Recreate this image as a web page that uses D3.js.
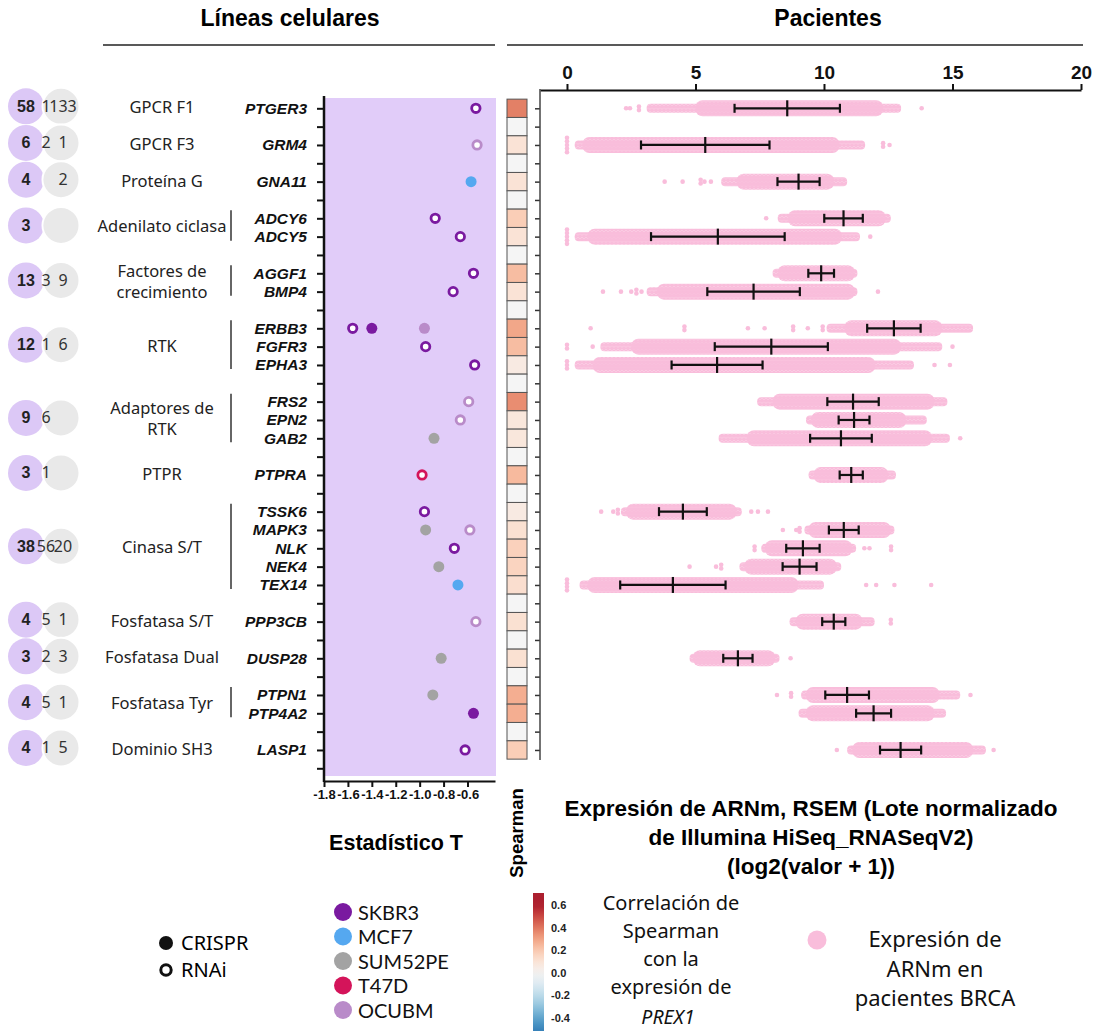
<!DOCTYPE html>
<html>
<head>
<meta charset="utf-8">
<script src="https://cdn.jsdelivr.net/npm/d3@7"></script>
<style>
  body { margin: 0; background: #fff; }
  svg { display: block; }
  .bold { font-family: 'Liberation Sans', Arial, sans-serif; font-weight: bold; }
  .reg { font-family: 'Noto Sans', sans-serif; }
  .leg { font-family: Lato, sans-serif; }
</style>
</head>
<body>
<svg id="chart" width="1098" height="1031"></svg>
<script>
// rows of the figure (empty string = spacer row)
const rowGenes = ['PTGER3', '', 'GRM4', '', 'GNA11', '', 'ADCY6', 'ADCY5', '', 'AGGF1', 'BMP4', '',
  'ERBB3', 'FGFR3', 'EPHA3', '', 'FRS2', 'EPN2', 'GAB2', '', 'PTPRA', '', 'TSSK6', 'MAPK3', 'NLK',
  'NEK4', 'TEX14', '', 'PPP3CB', '', 'DUSP28', '', 'PTPN1', 'PTP4A2', '', 'LASP1', '']

// spearman rho with PREX1, one per row (null = spacer)
const spearmanRho = [0.38, null, 0.10, null, 0.10, null, 0.18, 0.10, null, 0.23, 0.10, null,
  0.29, 0.23, 0.06, null, 0.35, 0.08, 0.08, null, 0.24, null, 0.06, 0.11, 0.17,
  0.16, 0.12, null, 0.11, null, 0.11, null, 0.27, 0.27, null, 0.18]

// functional groups
const groupNames = [['GPCR F1'], ['GPCR F3'], ['Proteína G'], ['Adenilato ciclasa'],
  ['Factores de', 'crecimiento'], ['RTK'], ['Adaptores de', 'RTK'], ['PTPR'], ['Cinasa S/T'],
  ['Fosfatasa S/T'], ['Fosfatasa Dual'], ['Fosfatasa Tyr'], ['Dominio SH3']]
const groupFirstRow = [0, 2, 4, 6, 9, 12, 16, 20, 22, 28, 30, 32, 35]
const groupLastRow = [0, 2, 4, 7, 10, 14, 18, 20, 26, 28, 30, 33, 35]
const vennLeft = ['58', '6', '4', '3', '13', '12', '9', '3', '38', '4', '3', '4', '4']
const vennMid = ['1', '2', '', '', '3', '1', '6', '1', '56', '5', '2', '5', '1']
const vennRight = ['133', '1', '2', '', '9', '6', '', '', '20', '1', '3', '1', '5']

// cell line screens (T statistic)
const screenGene = ['PTGER3', 'GRM4', 'GNA11', 'ADCY6', 'ADCY5', 'AGGF1', 'BMP4', 'ERBB3', 'ERBB3', 'ERBB3',
  'FGFR3', 'EPHA3', 'FRS2', 'EPN2', 'GAB2', 'PTPRA', 'TSSK6', 'MAPK3', 'MAPK3', 'NLK', 'NEK4', 'TEX14',
  'PPP3CB', 'DUSP28', 'PTPN1', 'PTP4A2', 'LASP1']
const screenT = [-0.53, -0.52, -0.57, -0.87, -0.66, -0.55, -0.72, -1.56, -1.40, -0.96,
  -0.95, -0.54, -0.59, -0.66, -0.88, -0.98, -0.96, -0.95, -0.58, -0.71, -0.84, -0.68,
  -0.53, -0.82, -0.89, -0.55, -0.62]
const screenLine = ['SKBR3', 'OCUBM', 'MCF7', 'SKBR3', 'SKBR3', 'SKBR3', 'SKBR3', 'SKBR3', 'SKBR3', 'OCUBM',
  'SKBR3', 'SKBR3', 'OCUBM', 'OCUBM', 'SUM52PE', 'T47D', 'SKBR3', 'SUM52PE', 'OCUBM', 'SKBR3', 'SUM52PE', 'MCF7',
  'OCUBM', 'SUM52PE', 'SUM52PE', 'SKBR3', 'SKBR3']
const screenMethod = ['RNAi', 'RNAi', 'CRISPR', 'RNAi', 'RNAi', 'RNAi', 'RNAi', 'RNAi', 'CRISPR', 'CRISPR',
  'RNAi', 'RNAi', 'RNAi', 'RNAi', 'CRISPR', 'RNAi', 'RNAi', 'CRISPR', 'RNAi', 'RNAi', 'CRISPR', 'CRISPR',
  'RNAi', 'CRISPR', 'CRISPR', 'CRISPR', 'RNAi']

const cellLines = ['SKBR3', 'MCF7', 'SUM52PE', 'T47D', 'OCUBM']
const cellColors = ['#7a1aa0', '#55a8f0', '#a3a3a3', '#d4145a', '#b98bc9']

// patient mRNA expression (log2(RSEM+1))
const exprGenes = ['PTGER3', 'GRM4', 'GNA11', 'ADCY6', 'ADCY5', 'AGGF1', 'BMP4', 'ERBB3', 'FGFR3', 'EPHA3',
  'FRS2', 'EPN2', 'GAB2', 'PTPRA', 'TSSK6', 'MAPK3', 'NLK', 'NEK4', 'TEX14', 'PPP3CB', 'DUSP28',
  'PTPN1', 'PTP4A2', 'LASP1']
const exprMean = [8.57, 5.38, 9.01, 10.76, 5.87, 9.89, 7.26, 12.72, 7.95, 5.84,
  11.13, 11.17, 10.66, 11.06, 4.51, 10.77, 9.18, 9.05, 4.12, 10.38, 6.65,
  10.90, 11.93, 12.98]
const exprSD = [2.05, 2.5, 0.82, 0.75, 2.6, 0.5, 1.8, 1.04, 2.2, 1.77,
  1.0, 0.6, 1.2, 0.45, 0.93, 0.58, 0.65, 0.66, 2.05, 0.45, 0.57,
  0.85, 0.68, 0.8]
// dense part of each swarm
const coreLo = [5.0, 0.6, 6.6, 8.6, 0.8, 8.2, 3.5, 10.8, 2.5, 1.0,
  8.0, 9.5, 7.0, 9.6, 2.3, 9.4, 7.7, 6.9, 0.8, 8.9, 4.9,
  9.3, 9.3, 11.1]
const coreHi = [12.3, 10.6, 10.4, 12.4, 10.7, 11.2, 11.2, 14.6, 13.0, 12.0,
  14.3, 13.2, 14.2, 12.5, 6.6, 12.6, 11.1, 10.5, 9.0, 11.5, 8.1,
  14.5, 14.3, 15.8]
// thinner tails of each swarm
const tailLo = [3.1, 0.3, 6.0, 8.2, 0.3, 8.0, 3.1, 10.1, 1.3, 0.3,
  7.4, 9.3, 5.9, 9.4, 2.1, 9.24, 7.56, 6.71, 0.49, 8.66, 4.77,
  9.11, 9.01, 10.9]
const tailHi = [13.0, 11.6, 10.9, 12.6, 11.4, 11.3, 11.3, 15.8, 14.6, 13.5,
  14.8, 14.0, 14.9, 12.8, 6.8, 12.74, 11.25, 10.67, 10.0, 11.97, 8.27,
  15.3, 14.75, 16.3]
// isolated patients: [value, number of stacked dots]
const exprOutliers = [
  [[2.3, 1], [2.45, 1], [2.8, 2], [13.8, 1]],
  [[0, 5], [12.3, 2], [12.55, 1]],
  [[3.8, 1], [4.5, 1], [5.2, 2], [5.35, 1], [5.6, 1]],
  [[7.75, 1]],
  [[0, 5], [11.8, 1]],
  [],
  [[1.4, 1], [2.1, 1], [2.5, 1], [2.7, 2], [2.9, 1], [12.1, 1]],
  [[0.92, 1], [4.57, 2], [7.04, 1], [7.69, 1], [8.8, 2], [9.37, 1], [9.95, 2]],
  [[0.0, 2], [1.0, 1], [15.0, 1]],
  [[0, 3], [14.3, 1], [14.9, 1]],
  [],
  [],
  [[15.3, 1]],
  [],
  [[1.33, 1], [1.8, 1], [1.98, 2], [7.17, 1], [7.43, 1], [7.82, 1]],
  [[8.4, 1], [8.92, 1], [9.05, 2]],
  [[7.3, 2], [11.57, 1], [11.77, 1], [12.61, 2]],
  [[4.77, 1], [5.8, 1], [6.0, 2]],
  [[0, 4], [11.64, 1], [12.03, 1], [12.74, 1], [14.17, 1]],
  [[12.6, 2]],
  [[8.7, 1]],
  [[8.17, 1], [8.72, 2], [15.7, 1]],
  [],
  [[10.5, 1], [16.6, 1]]
]

const tTicks = [-1.8, -1.6, -1.4, -1.2, -1.0, -0.8, -0.6]
const exprTicks = [0, 5, 10, 15, 20]
const rhoTicks = [0.6, 0.4, 0.2, 0.0, -0.2, -0.4]

const svg = d3.select('#chart')
const pink = '#f9bddb'

// scales
const rowY = d3.scaleLinear().domain([0, 36]).range([108.3, 768.3])
const rowH = rowY(1) - rowY(0)
const tX = d3.scaleLinear().domain([-1.8, -0.37]).range([324, 495])
const eX = d3.scaleLinear().domain([-1.05, 20]).range([540, 1081])
const rhoColor = d3.scaleDiverging(t => d3.interpolateRdBu(0.1 + 0.8 * t))
  .domain([0.6, 0, -0.6]).clamp(true)
const lineColor = d3.scaleOrdinal().domain(cellLines).range(cellColors)

const defs = svg.append('defs')
const pat = defs.append('pattern')
  .attr('id', 'swarm')
  .attr('patternUnits', 'userSpaceOnUse')
  .attr('width', 4)
  .attr('height', 7)
pat.append('circle').attr('cx', 2).attr('cy', 1.75).attr('r', 2.15).attr('fill', pink)
pat.append('circle').attr('cx', 0).attr('cy', 5.25).attr('r', 2.15).attr('fill', pink)
pat.append('circle').attr('cx', 4).attr('cy', 5.25).attr('r', 2.15).attr('fill', pink)

// headers
svg.append('text').attr('class', 'bold').attr('x', 290).attr('y', 26)
  .attr('text-anchor', 'middle').style('font-size', '23px').text('Líneas celulares')
svg.append('line').attr('x1', 103).attr('x2', 495).attr('y1', 45).attr('y2', 45)
  .attr('stroke', '#222').attr('stroke-width', 1.5)
svg.append('text').attr('class', 'bold').attr('x', 828).attr('y', 26)
  .attr('text-anchor', 'middle').style('font-size', '23px').text('Pacientes')
svg.append('line').attr('x1', 507).attr('x2', 1083).attr('y1', 45).attr('y2', 45)
  .attr('stroke', '#222').attr('stroke-width', 1.5)

// venn counts
const venn = svg.append('g')
groupNames.forEach((name, i) => {
  const y = (rowY(groupFirstRow[i]) + rowY(groupLastRow[i])) / 2 - 2
  venn.append('circle').attr('cx', 26).attr('cy', y).attr('r', 18).attr('fill', '#dcc8f6')
  venn.append('circle').attr('cx', 61).attr('cy', y).attr('r', 18.5)
    .attr('fill', '#e4e4e4').attr('fill-opacity', 0.82)
    .attr('stroke', '#fff').attr('stroke-width', 2)
  venn.append('text').attr('class', 'bold').attr('x', 26).attr('y', y + 5.5)
    .attr('text-anchor', 'middle').style('font-size', '16px').attr('fill', '#222').text(vennLeft[i])
  venn.append('text').attr('class', 'reg').attr('x', 46).attr('y', y + 5.5)
    .attr('text-anchor', 'middle').style('font-size', '16px').attr('fill', '#333').text(vennMid[i])
  venn.append('text').attr('class', 'reg').attr('x', 63).attr('y', y + 5.5)
    .attr('text-anchor', 'middle').style('font-size', '16px').attr('fill', '#333').text(vennRight[i])

  // category label
  const lh = 21
  name.forEach((line, k) => {
    svg.append('text').attr('class', 'reg')
      .attr('x', 162)
      .attr('y', y + 7 + (k - (name.length - 1) / 2) * lh)
      .attr('text-anchor', 'middle')
      .style('font-size', '16.5px')
      .attr('fill', '#222')
      .text(line)
  })
  // bracket for multi-gene groups
  if (groupLastRow[i] > groupFirstRow[i]) {
    const half = (rowY(groupLastRow[i]) - rowY(groupFirstRow[i])) / 2 + 6
    svg.append('line').attr('x1', 231).attr('x2', 231)
      .attr('y1', y - half).attr('y2', y + half)
      .attr('stroke', '#333').attr('stroke-width', 1.5)
  }
})

// T statistic panel
svg.append('rect').attr('x', 324).attr('y', 98).attr('width', 172).attr('height', 678)
  .attr('fill', '#e1ccf9')

const yAxis = svg.append('g')
  .attr('transform', 'translate(324,0)')
  .call(d3.axisLeft(rowY).tickValues(d3.range(37)).tickFormat(i => rowGenes[i]).tickSize(7).tickPadding(10))
yAxis.select('.domain').remove()
yAxis.selectAll('line').attr('stroke', '#111').attr('stroke-width', 2)
yAxis.selectAll('text')
  .attr('class', 'bold')
  .style('font-size', '15.5px')
  .style('font-style', 'italic')
  .attr('fill', '#111')
svg.append('line').attr('x1', 324).attr('x2', 324).attr('y1', 96).attr('y2', 782)
  .attr('stroke', '#111').attr('stroke-width', 2.5)

const tAxis = svg.append('g')
  .attr('transform', 'translate(0,781)')
  .call(d3.axisBottom(tX).tickValues(tTicks).tickFormat(d => d.toFixed(1)).tickSize(6).tickSizeOuter(0).tickPadding(3))
tAxis.select('.domain').attr('stroke', '#111').attr('stroke-width', 2)
tAxis.selectAll('line').attr('stroke', '#111').attr('stroke-width', 2)
tAxis.selectAll('text').attr('class', 'bold').style('font-size', '13px').attr('fill', '#111')

svg.append('text').attr('class', 'bold').attr('x', 396).attr('y', 850)
  .attr('text-anchor', 'middle').style('font-size', '21.5px').text('Estadístico T')

// screen dots
screenGene.forEach((g, i) => {
  const cx = tX(screenT[i])
  const cy = rowY(rowGenes.indexOf(g))
  const c = lineColor(screenLine[i])
  if (screenMethod[i] === 'CRISPR') {
    svg.append('circle').attr('cx', cx).attr('cy', cy).attr('r', 5.5).attr('fill', c)
  } else {
    svg.append('circle').attr('cx', cx).attr('cy', cy).attr('r', 4.2)
      .attr('fill', '#fff').attr('stroke', c).attr('stroke-width', 2.8)
  }
})

// spearman column
svg.append('g').selectAll('rect')
  .data(spearmanRho)
  .join('rect')
  .attr('x', 507)
  .attr('y', (d, i) => rowY(i) - rowH / 2)
  .attr('width', 20)
  .attr('height', rowH)
  .attr('fill', d => d === null ? '#f5f5f5' : rhoColor(d))
  .attr('stroke', '#555')
  .attr('stroke-width', 1)
svg.append('text').attr('class', 'bold')
  .attr('transform', 'translate(523,833) rotate(-90)')
  .attr('text-anchor', 'middle')
  .style('font-size', '18.5px')
  .text('Spearman')

// patients panel
const topAxis = svg.append('g')
  .attr('transform', 'translate(0,90)')
  .call(d3.axisTop(eX).tickValues(exprTicks).tickSize(6).tickSizeOuter(0).tickPadding(5))
topAxis.select('.domain').attr('stroke', '#111').attr('stroke-width', 2)
topAxis.selectAll('line').attr('stroke', '#111').attr('stroke-width', 2)
topAxis.selectAll('text').attr('class', 'bold').style('font-size', '19px').attr('fill', '#111')

const leftAxis = svg.append('g')
  .attr('transform', 'translate(540,0)')
  .call(d3.axisLeft(rowY).tickValues(d3.range(36)).tickFormat('').tickSize(5))
leftAxis.select('.domain').remove()
leftAxis.selectAll('line').attr('stroke', '#333').attr('stroke-width', 1.5)
svg.append('line').attr('x1', 540).attr('x2', 540).attr('y1', 89).attr('y2', 760)
  .attr('stroke', '#444').attr('stroke-width', 1.5)

const swarms = svg.append('g')
exprGenes.forEach((g, i) => {
  const y = rowY(rowGenes.indexOf(g))
  swarms.append('rect')
    .attr('x', eX(tailLo[i])).attr('width', eX(tailHi[i]) - eX(tailLo[i]))
    .attr('y', y - 4.5).attr('height', 9).attr('rx', 4)
    .attr('fill', 'url(#swarm)')
  swarms.append('rect')
    .attr('x', eX(coreLo[i])).attr('width', eX(coreHi[i]) - eX(coreLo[i]))
    .attr('y', y - 8).attr('height', 16).attr('rx', 7)
    .attr('fill', 'url(#swarm)')
  exprOutliers[i].forEach(([v, n]) => {
    d3.range(n).forEach(k => {
      swarms.append('circle')
        .attr('cx', eX(v))
        .attr('cy', y + (k - (n - 1) / 2) * 3.6)
        .attr('r', 2.3)
        .attr('fill', pink)
    })
  })
})

// mean +/- SD
const bars = svg.append('g').attr('stroke', '#111').attr('stroke-width', 2.2)
exprGenes.forEach((g, i) => {
  const y = rowY(rowGenes.indexOf(g))
  const lo = eX(exprMean[i] - exprSD[i])
  const hi = eX(exprMean[i] + exprSD[i])
  const m = eX(exprMean[i])
  bars.append('line').attr('x1', lo).attr('x2', hi).attr('y1', y).attr('y2', y)
  bars.append('line').attr('x1', lo).attr('x2', lo).attr('y1', y - 4.5).attr('y2', y + 4.5)
  bars.append('line').attr('x1', hi).attr('x2', hi).attr('y1', y - 4.5).attr('y2', y + 4.5)
  bars.append('line').attr('x1', m).attr('x2', m).attr('y1', y - 8).attr('y2', y + 8)
})

const xTitle = ['Expresión de ARNm, RSEM (Lote normalizado', 'de Illumina HiSeq_RNASeqV2)', '(log2(valor + 1))']
xTitle.forEach((t, k) => {
  svg.append('text').attr('class', 'bold').attr('x', 811).attr('y', 816 + k * 29)
    .attr('text-anchor', 'middle').style('font-size', '22.5px').text(t)
})

// legend: method
svg.append('circle').attr('cx', 166).attr('cy', 943).attr('r', 7).attr('fill', '#111')
svg.append('circle').attr('cx', 166).attr('cy', 970).attr('r', 5.2)
  .attr('fill', '#fff').attr('stroke', '#111').attr('stroke-width', 3)
svg.append('text').attr('class', 'reg').attr('x', 181).attr('y', 950).style('font-size', '20px').text('CRISPR')
svg.append('text').attr('class', 'reg').attr('x', 181).attr('y', 977).style('font-size', '20px').text('RNAi')

// legend: cell lines
cellLines.forEach((name, i) => {
  const y = 912 + i * 24.5
  svg.append('circle').attr('cx', 343).attr('cy', y).attr('r', 9).attr('fill', cellColors[i])
  svg.append('text').attr('class', 'leg').attr('x', 358).attr('y', y + 7.5)
    .style('font-size', '20px').attr('fill', '#111').text(name)
})

// legend: colour bar
const cbY = d3.scaleLinear().domain([0.6, -0.4]).range([905, 1018])
const grad = defs.append('linearGradient').attr('id', 'rhoGrad')
  .attr('x1', 0).attr('x2', 0).attr('y1', 0).attr('y2', 1)
const cbTop = cbY.invert(893)
const cbBottom = cbY.invert(1031)
d3.range(0, 1.0001, 0.05).forEach(t => {
  grad.append('stop').attr('offset', t).attr('stop-color', rhoColor(cbTop + (cbBottom - cbTop) * t))
})
svg.append('rect').attr('x', 533).attr('y', 893).attr('width', 11).attr('height', 138)
  .attr('fill', 'url(#rhoGrad)')
rhoTicks.forEach(v => {
  svg.append('text').attr('class', 'bold').attr('x', 551).attr('y', cbY(v) + 4)
    .style('font-size', '11px').attr('fill', '#222').text(v.toFixed(1))
})
const rhoLabel = ['Correlación de', 'Spearman', 'con la', 'expresión de']
rhoLabel.forEach((t, k) => {
  svg.append('text').attr('class', 'reg').attr('x', 671).attr('y', 910 + k * 28)
    .attr('text-anchor', 'middle').style('font-size', '20px').attr('fill', '#111').text(t)
})
svg.append('text').attr('class', 'reg').attr('x', 668).attr('y', 1024)
  .attr('text-anchor', 'middle').style('font-size', '19.5px').style('font-style', 'italic')
  .attr('fill', '#111').text('PREX1')

// legend: patients
svg.append('circle').attr('cx', 817).attr('cy', 940).attr('r', 9.5).attr('fill', pink)
const patLabel = ['Expresión de', 'ARNm en', 'pacientes BRCA']
patLabel.forEach((t, k) => {
  svg.append('text').attr('class', 'reg').attr('x', 935).attr('y', 947 + k * 29.5)
    .attr('text-anchor', 'middle').style('font-size', '22px').attr('fill', '#111').text(t)
})
</script>
</body>
</html>
